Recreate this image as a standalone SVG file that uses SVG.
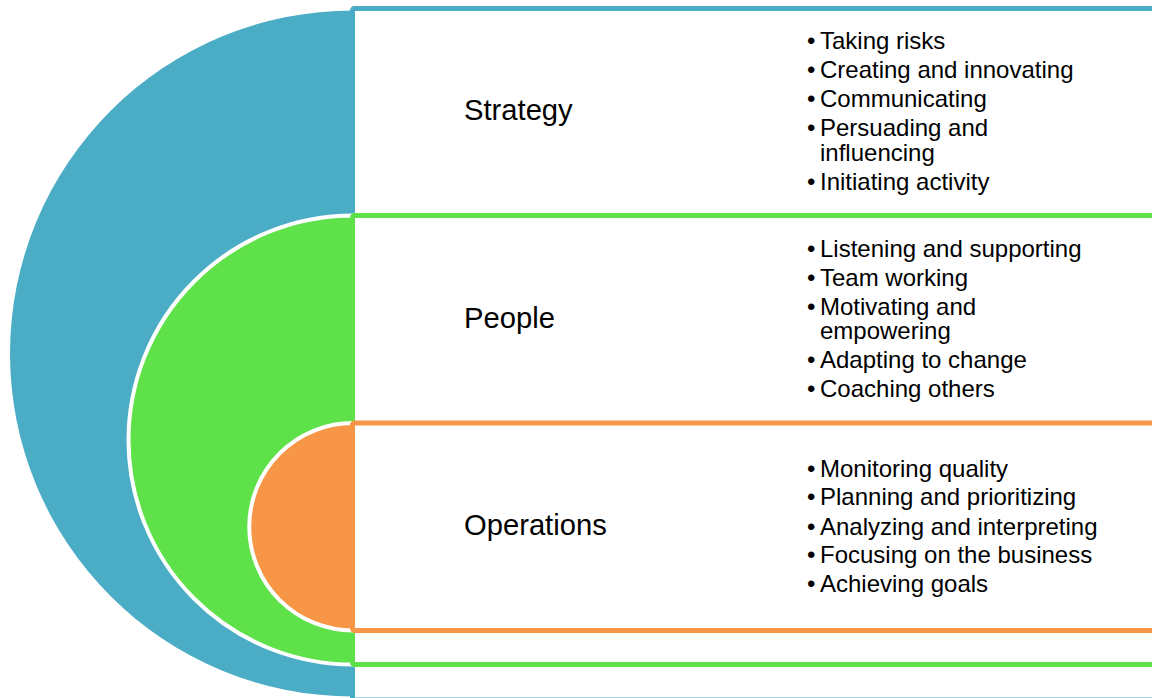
<svg xmlns="http://www.w3.org/2000/svg" width="1152" height="698" viewBox="0 0 1152 698">
<style>
.lbl{font-family:"Liberation Sans",Arial,sans-serif;font-size:29.2px;fill:#000}
.bt{font-family:"Liberation Sans",Arial,sans-serif;font-size:24px;fill:#000}
.box{fill:#fff;stroke-width:5}
</style>
<rect width="1152" height="698" fill="#fff"/>
<g id="strategy">
<path d="M353,10.5 A343,343 0 0 0 353,696.5 Z" fill="#4BACC6"/>
<rect class="box" x="352.5" y="8.5" width="820" height="691.5" rx="2" stroke="#4BACC6"/>
<text class="lbl" x="464" y="120">Strategy</text>
<g class="bt">
<text x="807" y="49">•</text><text x="820" y="49">Taking risks</text>
<text x="807" y="78">•</text><text x="820" y="78">Creating and innovating</text>
<text x="807" y="107">•</text><text x="820" y="107">Communicating</text>
<text x="807" y="136">•</text><text x="820" y="136">Persuading and</text>
<text x="820" y="161">influencing</text>
<text x="807" y="190">•</text><text x="820" y="190">Initiating activity</text>
</g>
</g>
<g id="people">
<path d="M353,215.5 A224.5,224.5 0 0 0 353,664.5 Z" fill="#5FE14A" stroke="#fff" stroke-width="4"/>
<rect class="box" x="352.5" y="215.5" width="820" height="449" rx="2" stroke="#5FE14A"/>
<text class="lbl" x="464" y="328">People</text>
<g class="bt">
<text x="807" y="257">•</text><text x="820" y="257">Listening and supporting</text>
<text x="807" y="286">•</text><text x="820" y="286">Team working</text>
<text x="807" y="315">•</text><text x="820" y="315">Motivating and</text>
<text x="820" y="339">empowering</text>
<text x="807" y="368">•</text><text x="820" y="368">Adapting to change</text>
<text x="807" y="397">•</text><text x="820" y="397">Coaching others</text>
</g>
</g>
<g id="operations">
<path d="M353,423 A103.75,103.75 0 0 0 353,630.5 Z" fill="#F79646" stroke="#fff" stroke-width="4"/>
<rect class="box" x="352.5" y="423" width="820" height="207.5" rx="2" stroke="#F79646"/>
<text class="lbl" x="464" y="535">Operations</text>
<g class="bt">
<text x="807" y="477">•</text><text x="820" y="477">Monitoring quality</text>
<text x="807" y="505">•</text><text x="820" y="505">Planning and prioritizing</text>
<text x="807" y="535">•</text><text x="820" y="535">Analyzing and interpreting</text>
<text x="807" y="563">•</text><text x="820" y="563">Focusing on the business</text>
<text x="807" y="592">•</text><text x="820" y="592">Achieving goals</text>
</g>
</g>
<g id="connectors"/>
</svg>
